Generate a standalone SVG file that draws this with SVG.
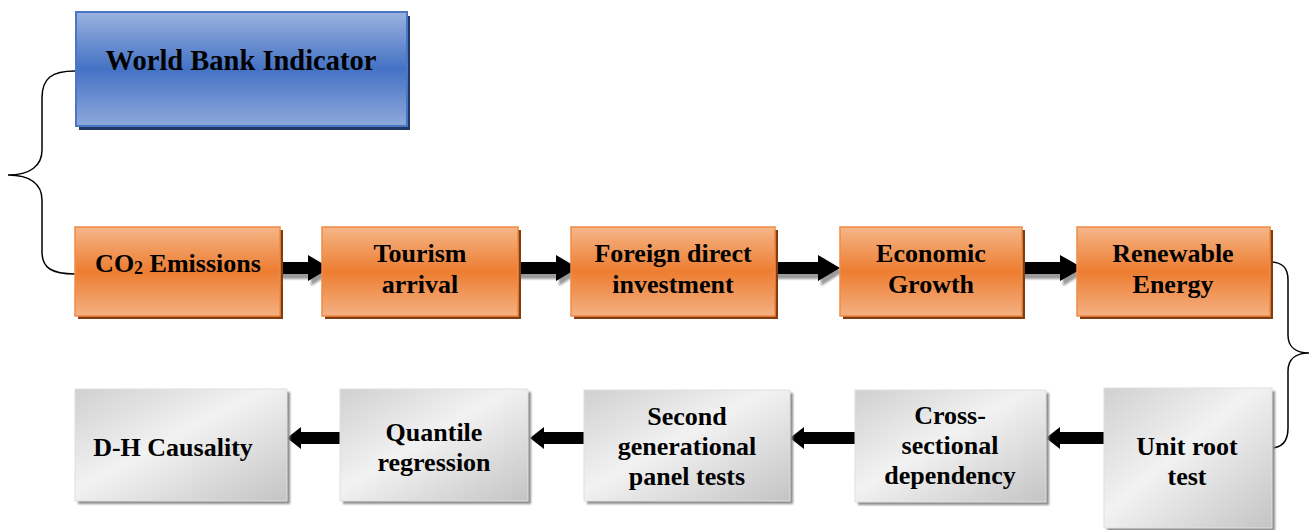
<svg xmlns="http://www.w3.org/2000/svg" width="1309" height="530" viewBox="0 0 1309 530">
<defs>
<linearGradient id="gBlue" x1="0" y1="0" x2="0" y2="1">
<stop offset="0" stop-color="#9AB2E0"/><stop offset="0.5" stop-color="#4472C4"/><stop offset="1" stop-color="#8EA9DB"/>
</linearGradient>
<linearGradient id="gOrange" x1="0" y1="0" x2="0" y2="1">
<stop offset="0" stop-color="#F5B688"/><stop offset="0.5" stop-color="#ED7D31"/><stop offset="1" stop-color="#F4B183"/>
</linearGradient>
<linearGradient id="gGray" x1="0" y1="0" x2="1" y2="1">
<stop offset="0" stop-color="#D0D0D0"/><stop offset="0.45" stop-color="#F2F2F2"/><stop offset="1" stop-color="#C4C4C4"/>
</linearGradient>
<filter id="soft" x="-20%" y="-20%" width="140%" height="140%"><feGaussianBlur stdDeviation="1.2"/></filter>
</defs>
<style>
text{font-family:"Liberation Serif","Times New Roman",serif;font-weight:bold;fill:#000;text-anchor:middle}
.t1{font-size:28.5px}
.t2{font-size:26px}
.blue{fill:url(#gBlue);stroke:#4A76C6;stroke-width:2}
.bsh{fill:#1F3864}
.org{fill:url(#gOrange);stroke:#F08A45;stroke-width:1.5}
.osh{fill:#843C0C}
.gry{fill:url(#gGray);stroke:#E0E0E0;stroke-width:1}
.gsh{fill:#8C8C8C;filter:url(#soft)}
.arr{fill:#000}
.ash{fill:#9A9A9A;filter:url(#soft)}
.brace{fill:none;stroke:#000;stroke-width:1.5}
</style>

<g id="connectors">
<path class="brace" d="M75,71 C52,71 42,78 42,98 L42,150 C42,166 30,175 8,175 C30,175 42,184 42,200 L42,252 C42,268 52,274 75,274"/>
<path class="brace" d="M1270,262 C1283,262 1288,268 1288,280 L1288,335 C1288,347 1296,353 1309,353 C1296,353 1288,359 1288,371 L1288,428 C1288,441 1283,448 1270,448"/>
<g>
<path class="ash" d="M279,265 L311,265 L311,258 L333,272 L311,286 L311,279 L279,279 Z"/>
<path class="arr" d="M276,262 L308,262 L308,255 L330,268 L308,281 L308,274 L276,274 Z"/>
<path class="ash" d="M517,265 L559,265 L559,258 L581,272 L559,286 L559,279 L517,279 Z"/>
<path class="arr" d="M514,262 L556,262 L556,255 L578,268 L556,281 L556,274 L514,274 Z"/>
<path class="ash" d="M773,265 L821,265 L821,258 L843,272 L821,286 L821,279 L773,279 Z"/>
<path class="arr" d="M770,262 L818,262 L818,255 L840,268 L818,281 L818,274 L770,274 Z"/>
<path class="ash" d="M1021,265 L1063,265 L1063,258 L1086,272 L1063,286 L1063,279 L1021,279 Z"/>
<path class="arr" d="M1018,262 L1060,262 L1060,255 L1083,268 L1060,281 L1060,274 L1018,274 Z"/>
<path class="arr" d="M1104,432 L1060,432 L1060,427 L1046,438 L1060,449 L1060,444 L1104,444 Z"/>
<path class="arr" d="M855,432 L804,432 L804,427 L790,438 L804,449 L804,444 L855,444 Z"/>
<path class="arr" d="M584,432 L544,432 L544,427 L530,438 L544,449 L544,444 L584,444 Z"/>
<path class="arr" d="M340,432 L301,432 L301,427 L287,438 L301,449 L301,444 L340,444 Z"/>
</g>
</g>

<g id="n-wbi">
<rect class="bsh" x="79" y="16" width="331" height="114"/>
<rect class="blue" x="76" y="12" width="331" height="114"/>
<text class="t1" x="241" y="70">World Bank Indicator</text>
</g>

<g id="n-co2">
<rect class="osh" x="78" y="230" width="205" height="89"/>
<rect class="org" x="75" y="227" width="205" height="89"/>
<text class="t2" x="178" y="272">CO<tspan font-size="18" dy="2">2</tspan><tspan dy="-2"> Emissions</tspan></text>
</g>
<g id="n-tourism">
<rect class="osh" x="325" y="230" width="196" height="89"/>
<rect class="org" x="322" y="227" width="196" height="89"/>
<text class="t2" x="420" y="262">Tourism</text>
<text class="t2" x="420" y="293">arrival</text>
</g>
<g id="n-fdi">
<rect class="osh" x="574" y="230" width="204" height="89"/>
<rect class="org" x="571" y="227" width="204" height="89"/>
<text class="t2" x="673" y="262">Foreign direct</text>
<text class="t2" x="673" y="293">investment</text>
</g>
<g id="n-growth">
<rect class="osh" x="843" y="230" width="182" height="89"/>
<rect class="org" x="840" y="227" width="182" height="89"/>
<text class="t2" x="931" y="262">Economic</text>
<text class="t2" x="931" y="293">Growth</text>
</g>
<g id="n-renew">
<rect class="osh" x="1080" y="230" width="193" height="89"/>
<rect class="org" x="1077" y="227" width="193" height="89"/>
<text class="t2" x="1173" y="262">Renewable</text>
<text class="t2" x="1173" y="293">Energy</text>
</g>

<g id="n-dh">
<rect class="gsh" x="78" y="392" width="212" height="112"/>
<rect class="gry" x="75" y="389" width="212" height="112"/>
<text class="t2" x="173" y="456">D-H Causality</text>
</g>
<g id="n-quantile">
<rect class="gsh" x="343" y="392" width="188" height="112"/>
<rect class="gry" x="340" y="389" width="188" height="112"/>
<text class="t2" x="434" y="441">Quantile</text>
<text class="t2" x="434" y="471">regression</text>
</g>
<g id="n-second">
<rect class="gsh" x="587" y="393" width="206" height="111"/>
<rect class="gry" x="584" y="390" width="206" height="111"/>
<text class="t2" x="687" y="425">Second</text>
<text class="t2" x="687" y="455">generational</text>
<text class="t2" x="687" y="485">panel tests</text>
</g>
<g id="n-cross">
<rect class="gsh" x="858" y="393" width="191" height="112"/>
<rect class="gry" x="855" y="390" width="191" height="112"/>
<text class="t2" x="950" y="424">Cross-</text>
<text class="t2" x="950" y="454">sectional</text>
<text class="t2" x="950" y="484">dependency</text>
</g>
<g id="n-unit">
<rect class="gsh" x="1107" y="391" width="168" height="140"/>
<rect class="gry" x="1104" y="388" width="168" height="140"/>
<text class="t2" x="1187" y="455">Unit root</text>
<text class="t2" x="1187" y="485">test</text>
</g>
</svg>
